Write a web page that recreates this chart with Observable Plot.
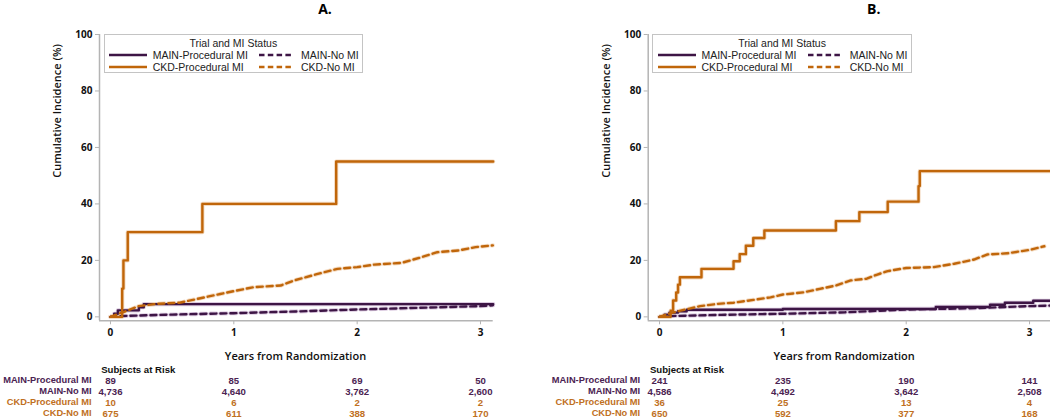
<!DOCTYPE html>
<html><head><meta charset="utf-8">
<script src="https://cdn.jsdelivr.net/npm/d3@7"></script>
<script src="https://cdn.jsdelivr.net/npm/@observablehq/plot@0.6"></script>
<style>
body{margin:0;background:#fff;}
#wrap{position:relative;width:1050px;height:419px;overflow:hidden;background:#fff;font-family:"Liberation Sans",Arial,sans-serif;}
#wrap svg{position:absolute;overflow:visible;}
.title{position:absolute;font-family:"Open Sans",sans-serif;font-weight:700;font-size:14px;line-height:1;transform:translate(-50%,-50%);white-space:nowrap;}
.xlabel{position:absolute;font-family:"Open Sans",sans-serif;font-weight:600;font-size:11px;transform:translate(-50%,-50%);white-space:nowrap;color:#111;}
.legend{position:absolute;border:1px solid #c4c4c4;box-sizing:border-box;background:#fff;font-family:"Liberation Sans",Arial,sans-serif;font-size:10.5px;color:#222;}
.legend div{position:absolute;white-space:nowrap;transform:translateY(-50%);}
.legend svg{position:absolute;overflow:visible;}
g[aria-label="x-axis tick label"] text, g[aria-label="y-axis tick label"] text{font-weight:700;}
</style></head><body><div id="wrap"></div>
<script>
const PURPLE = "#3d1545", ORANGE = "#c0660a";
const PURPLE_TXT = "#4b2352", ORANGE_TXT = "#c0701e";
const seriesNames = ["MAIN-Procedural MI", "MAIN-No MI", "CKD-Procedural MI", "CKD-No MI"];
const legendTitle = "Trial and MI Status";
const panelTitles = ["A.", "B."];
const xTicks = [0, 1, 2, 3];
const yTicks = [0, 20, 40, 60, 80, 100];
const xLabel = "Years from Randomization";
const yLabel = "Cumulative Incidence (%)";
const riskHeader = "Subjects at Risk";

// Panel A curves [years, %]
const A_MAIN_PROC = [[0,0],[0.03,1.1],[0.06,2.3],[0.23,3.4],[0.27,4.5],[3.103,4.5]];
const A_MAIN_NOMI = [[0,0],[0.1,0.3],[0.5,0.8],[1.0,1.3],[1.5,1.9],[2.0,2.6],[2.5,3.2],[3.0,3.8],[3.1,4.1]];
const A_CKD_PROC = [[0,0],[0.095,10],[0.105,20],[0.14,30],[0.745,40],[1.83,55],[3.103,55]];
const A_CKD_NOMI = [[0,0],[0.06,1.0],[0.13,2.1],[0.23,3.8],[0.37,4.6],[0.56,5.0],[0.73,6.6],[0.89,8.1],[1.0,9.1],[1.16,10.5],[1.38,11.1],[1.49,12.9],[1.68,15.2],[1.84,17.0],[2.0,17.6],[2.14,18.5],[2.36,19.1],[2.52,21.1],[2.65,22.9],[2.82,23.5],[2.96,24.7],[3.1,25.3]];

// Panel B curves [years, %]
const B_MAIN_PROC = [[0,0],[0.04,0.8],[0.08,1.5],[0.15,2.0],[0.22,2.5],[1.0,2.8],[2.24,3.5],[2.68,4.3],[2.8,5.0],[3.03,5.7],[3.17,5.7]];
const B_MAIN_NOMI = [[0,0],[0.1,0.3],[0.5,0.7],[1.0,1.1],[1.5,1.6],[2.0,2.6],[2.5,3.0],[3.0,3.8],[3.17,4.0]];
const B_CKD_PROC = [[0,0],[0.09,2.2],[0.11,5.8],[0.135,8.6],[0.15,11.4],[0.165,14.0],[0.34,17.0],[0.6,19.7],[0.65,22.2],[0.7,25.2],[0.76,27.9],[0.85,30.6],[1.43,33.9],[1.62,37.1],[1.85,40.8],[2.1,46.3],[2.11,51.6],[3.17,51.6]];
const B_CKD_NOMI = [[0,0],[0.076,1.1],[0.17,2.2],[0.33,3.8],[0.47,4.6],[0.6,5.0],[0.76,6.0],[0.9,6.9],[1.0,7.9],[1.17,8.7],[1.3,9.9],[1.43,11.1],[1.55,12.9],[1.68,13.5],[1.76,14.9],[1.85,16.2],[2.0,17.3],[2.22,17.6],[2.39,18.8],[2.55,20.3],[2.66,22.1],[2.82,22.5],[3.0,23.7],[3.12,25.0]];

// Subjects at risk at years 0,1,2,3
const A_RISK_MAIN_PROC = [89, 85, 69, 50];
const A_RISK_MAIN_NOMI = [4736, 4640, 3762, 2600];
const A_RISK_CKD_PROC = [10, 6, 2, 2];
const A_RISK_CKD_NOMI = [675, 611, 388, 170];
const B_RISK_MAIN_PROC = [241, 235, 190, 141];
const B_RISK_MAIN_NOMI = [4586, 4492, 3642, 2508];
const B_RISK_CKD_PROC = [36, 25, 13, 4];
const B_RISK_CKD_NOMI = [650, 592, 377, 168];

const seriesColor = [PURPLE, PURPLE, ORANGE, ORANGE];
const seriesHalo = ["#dccbe0", "#dccbe0", "#f4dcc4", "#f4dcc4"];
const seriesTxt = [PURPLE_TXT, PURPLE_TXT, ORANGE_TXT, ORANGE_TXT];
const seriesDash = [null, "6,4", null, "6,4"];

const panels = [
  {left: 0, width: 525, ml: 99, mr: 32.3, xd: [-0.089, 3.103], title: panelTitles[0],
   curves: [A_MAIN_PROC, A_MAIN_NOMI, A_CKD_PROC, A_CKD_NOMI],
   risk: [A_RISK_MAIN_PROC, A_RISK_MAIN_NOMI, A_RISK_CKD_PROC, A_RISK_CKD_NOMI]},
  {left: 525, width: 525, ml: 122.7, mr: 0, xd: [-0.092, 3.17], title: panelTitles[1],
   curves: [B_MAIN_PROC, B_MAIN_NOMI, B_CKD_PROC, B_CKD_NOMI],
   risk: [B_RISK_MAIN_PROC, B_RISK_MAIN_NOMI, B_RISK_CKD_PROC, B_RISK_CKD_NOMI]}
];

const wrap = document.getElementById("wrap");
const fmt = d3.format(",");
const AXIS = "#b4b4b4";
const YMIN = -1.4;

panels.forEach(p => {
  const marks = [
    Plot.ruleX([p.xd[0]], {stroke: AXIS, strokeWidth: 1.5}),
    Plot.ruleY([YMIN], {stroke: AXIS, strokeWidth: 1.5}),
    Plot.axisX({ticks: xTicks, tickFormat: d3.format("d"), tickSize: 4, tickPadding: 4, label: null, stroke: AXIS, fill: "#111", fontSize: 10, fontFamily: "Open Sans, sans-serif"}),
    Plot.axisY({ticks: yTicks, tickFormat: d3.format("d"), tickSize: 4, tickPadding: 3, label: null, stroke: AXIS, fill: "#111", fontSize: 10, fontFamily: "Open Sans, sans-serif"}),
    Plot.text([yLabel], {frameAnchor: "left", dx: -42, rotate: -90, text: d => d, fontSize: 11, fontWeight: 600, fontFamily: "Open Sans, sans-serif", fill: "#111"})
  ];
  p.curves.forEach((c, i) => {
    const solid = seriesDash[i] == null;
    marks.push(Plot.line(c, {x: d => d[0], y: d => d[1], curve: solid ? "step-after" : "linear",
      stroke: seriesHalo[i], strokeWidth: 4.2, strokeDasharray: seriesDash[i] ? "6,4" : null}));
  });
  p.curves.forEach((c, i) => {
    const solid = seriesDash[i] == null;
    marks.push(Plot.line(c, {x: d => d[0], y: d => d[1], curve: solid ? "step-after" : "linear",
      stroke: seriesColor[i], strokeWidth: 2.4, strokeDasharray: seriesDash[i] ? "6,4" : null}));
  });
  const main = Plot.plot({
    width: p.width, height: 345, marginLeft: p.ml, marginRight: p.mr, marginTop: 34, marginBottom: 24.7,
    x: {domain: p.xd}, y: {domain: [YMIN, 100]},
    style: {fontFamily: "Open Sans, sans-serif", fontSize: "10px", background: "transparent"},
    marks
  });
  main.style.left = p.left + "px"; main.style.top = "0px";
  wrap.appendChild(main);

  // risk table
  const riskData = p.risk.flatMap((arr, i) => arr.map((n, j) => ({row: seriesNames[i], t: xTicks[j], n, c: seriesTxt[i]})));
  const rows = seriesNames.map((s, i) => ({row: s, c: seriesTxt[i]}));
  const risk = Plot.plot({
    width: p.width, height: 59, marginLeft: p.ml, marginRight: p.mr, marginTop: 7, marginBottom: 5,
    x: {domain: p.xd, axis: null}, y: {type: "point", domain: [riskHeader, ...seriesNames], padding: 0, axis: null},
    color: {type: "identity"},
    style: {fontFamily: "Liberation Sans, Arial, sans-serif", fontSize: "9.3px", background: "transparent"},
    marks: [
      Plot.text(riskData, {x: "t", y: "row", text: d => fmt(d.n), fill: "c", fontWeight: 700, fontSize: 9.6}),
      Plot.text(rows, {y: "row", frameAnchor: "left", dx: -8, textAnchor: "end", text: "row", fill: "c", fontWeight: 700}),
      Plot.text([riskHeader], {y: d => d, frameAnchor: "left", dx: 1.7, textAnchor: "start", text: d => d, fill: "#111", fontWeight: 700, fontSize: 9.6})
    ]
  });
  risk.style.left = p.left + "px"; risk.style.top = "360px";
  wrap.appendChild(risk);

  const xs = p.left + p.ml; // y-axis position in page
  const t = document.createElement("div");
  t.className = "title"; t.textContent = p.title;
  t.style.left = (xs + 226) + "px"; t.style.top = "8.5px";
  wrap.appendChild(t);

  const xl = document.createElement("div");
  xl.className = "xlabel"; xl.textContent = xLabel;
  xl.style.left = (xs + 196.5) + "px"; xl.style.top = "355px";
  wrap.appendChild(xl);

  // legend
  const lg = document.createElement("div");
  lg.className = "legend";
  lg.style.left = (xs + 4.7) + "px"; lg.style.top = "34.3px";
  lg.style.width = "259.3px"; lg.style.height = "38.7px";
  const lt = document.createElement("div");
  lt.textContent = legendTitle; lt.style.left = "0"; lt.style.width = "100%"; lt.style.textAlign = "center"; lt.style.top = "7.4px";
  lg.appendChild(lt);
  const pos = [[4.3, 19.4, 38, 48], [154.3, 19.4, 35, 196.3], [4.3, 32, 38, 48], [154.3, 32, 35, 196.3]];
  seriesNames.forEach((s, i) => {
    const [lx, ly, lw, tx] = pos[i];
    const ns = "http://www.w3.org/2000/svg";
    const sv = document.createElementNS(ns, "svg");
    sv.setAttribute("width", lw); sv.setAttribute("height", 4);
    sv.style.left = lx + "px"; sv.style.top = (ly - 2) + "px";
    const ln = document.createElementNS(ns, "line");
    ln.setAttribute("x1", 0); ln.setAttribute("x2", lw); ln.setAttribute("y1", 2); ln.setAttribute("y2", 2);
    ln.setAttribute("stroke", seriesColor[i]); ln.setAttribute("stroke-width", 2.4);
    if (seriesDash[i]) ln.setAttribute("stroke-dasharray", "5.5,3.3");
    sv.appendChild(ln); lg.appendChild(sv);
    const tx1 = document.createElement("div");
    tx1.textContent = s; tx1.style.left = tx + "px"; tx1.style.top = ly + "px";
    lg.appendChild(tx1);
  });
  wrap.appendChild(lg);
});
</script></body></html>
